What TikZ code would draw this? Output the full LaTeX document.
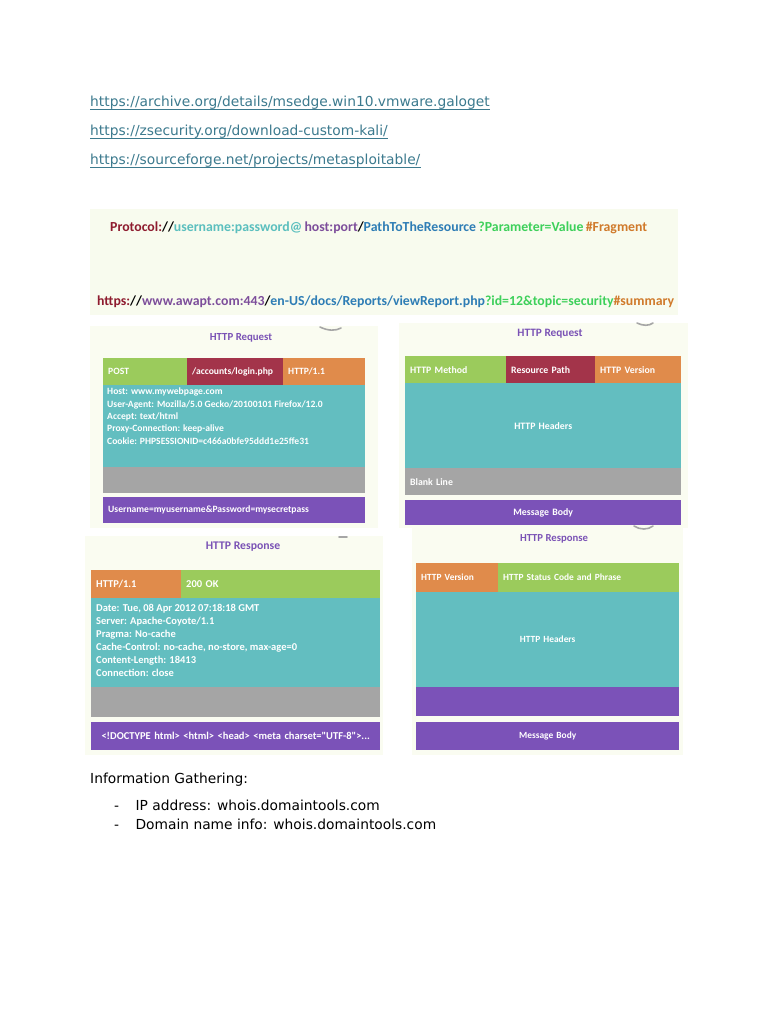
\documentclass[tikz,border=0pt]{standalone}
\usepackage{fontspec}
\setmainfont{DejaVu Sans}
\newfontfamily\shotfont{Carlito}
\usepackage{tikz}
\usetikzlibrary{positioning}
\definecolor{linkblue}{HTML}{3C7A8E}
\definecolor{bannerbg}{HTML}{F8FBEE}
\definecolor{panelbg}{HTML}{FAFCF1}
\definecolor{cgreen}{HTML}{9BCB5C}
\definecolor{cred}{HTML}{A3344A}
\definecolor{corange}{HTML}{E08B4B}
\definecolor{cteal}{HTML}{63BEC0}
\definecolor{cgray}{HTML}{A5A5A5}
\definecolor{cpurple}{HTML}{7B52B8}
\definecolor{ctitle}{HTML}{7A52B5}
\definecolor{protored}{HTML}{8E1B2E}
\definecolor{userteal}{HTML}{5BBFBE}
\definecolor{hostpurple}{HTML}{7D4E9B}
\definecolor{pathblue}{HTML}{2E7DB5}
\definecolor{paramgreen}{HTML}{3DD05A}
\definecolor{fragorange}{HTML}{D07A2B}

\begin{document}
\begin{tikzpicture}[x=1pt, y=-1pt,
    page/.style={font=\fontsize{13.8}{16}\selectfont, anchor=base west, inner sep=0pt},
    link/.style={page, text=linkblue},
    underline/.style={draw=linkblue, line width=0.8pt},
    panel/.style={fill=#1, anchor=north west, inner sep=0pt},
    cellfont/.style={font=\shotfont\bfseries\fontsize{9.6}{12}\selectfont},
    cell/.style={fill=#1, anchor=north west, inner sep=0pt, inner xsep=5pt, text=white, align=left, cellfont},
    title/.style={font=\shotfont\bfseries\fontsize{#1}{13}\selectfont, text=ctitle, inner sep=0pt},
    hdrtext/.style={anchor=north west, inner sep=0pt, text=white, align=left},
    banner text/.style={anchor=west, inner sep=0pt, font=\shotfont\bfseries\fontsize{13.8}{16}\selectfont},
    curl/.style={draw=gray!70, line width=1.6pt, line cap=round}
]
\useasboundingbox[fill=white] (0,0) rectangle (768,1024);

% Links
\node[link] (lnkEdge) at (90,107) {https://archive.org/details/msedge.win10.vmware.galoget};
\node[link] (lnkKali) at (90,136) {https://zsecurity.org/download-custom-kali/};
\node[link] (lnkMeta) at (90,165) {https://sourceforge.net/projects/metasploitable/};
\foreach \l in {lnkEdge, lnkKali, lnkMeta}
  \draw[underline] ([yshift=-2pt]\l.base west) -- ([yshift=-2pt]\l.base east);

% URL structure banner
\node[panel=bannerbg, minimum width=588, minimum height=106] (banner) at (90,209) {};
\node[banner text] (urlShape) at (110,228)
  {\textcolor{protored}{Protocol:}//\textcolor{userteal}{username:password@}\,\textcolor{hostpurple}{host:port}/\textcolor{pathblue}{PathToTheResource}\,\textcolor{paramgreen}{?Parameter=Value}\,\textcolor{fragorange}{\#Fragment}};
\node[banner text] (urlSample) at (97,302)
  {\textcolor{protored}{https:}//\textcolor{hostpurple}{www.awapt.com:443}/\textcolor{pathblue}{en-US/docs/Reports/viewReport.php}\textcolor{paramgreen}{?id=12\&topic=security}\textcolor{fragorange}{\#summary}};

% HTTP request example
\begin{scope}[cellfont/.style={font=\shotfont\bfseries\fontsize{9.6}{12}\selectfont}]
\node[panel=panelbg, minimum width=288, minimum height=202] (reqPanel) at (90,326) {};
\node[title=10.8] (reqTitle) at (241,338) {HTTP Request};
\node[cell=cgreen, minimum width=84, minimum height=27, text width=74pt] (reqPost) at (103,358) {POST};
\node[cell=cred, minimum width=96, minimum height=27, text width=86pt] (reqPath) at (187,358) {/accounts/login.php};
\node[cell=corange, minimum width=82, minimum height=27, text width=72pt] (reqVer) at (283,358) {HTTP/1.1};
\node[cell=cteal, minimum width=262, minimum height=83] (reqHdr) at (103,385) {};
\node[hdrtext, font=\shotfont\bfseries\fontsize{9.6}{12.3}\selectfont, below right=3pt and 4pt of reqHdr.north west] (reqHdrText)
  {Host: www.mywebpage.com\\
   User-Agent: Mozilla/5.0 Gecko/20100101 Firefox/12.0\\
   Accept: text/html\\
   Proxy-Connection: keep-alive\\
   Cookie: PHPSESSIONID=c466a0bfe95ddd1e25ffe31};
\node[cell=cgray, minimum width=262, minimum height=26] (reqBlank) at (103,467) {};
\node[cell=cpurple, minimum width=262, minimum height=26, text width=252pt] (reqBody) at (103,497) {Username=myusername\&Password=mysecretpass};
\end{scope}

% HTTP request layout
\begin{scope}[cellfont/.style={font=\shotfont\bfseries\fontsize{9.8}{12}\selectfont}]
\node[panel=panelbg, minimum width=289, minimum height=205] (reqFmtPanel) at (399,323) {};
\node[title=11.3] (reqFmtTitle) at (550,334) {HTTP Request};
\node[cell=cgreen, minimum width=101, minimum height=27, text width=91pt] (reqFmtMethod) at (405,356) {HTTP Method};
\node[cell=cred, minimum width=89, minimum height=27, text width=79pt] (reqFmtPath) at (506,356) {Resource Path};
\node[cell=corange, minimum width=86, minimum height=27, text width=76pt] (reqFmtVer) at (595,356) {HTTP Version};
\node[cell=cteal, minimum width=276, minimum height=85, align=center, text width=266pt] (reqFmtHdr) at (405,383) {HTTP Headers};
\node[cell=cgray, minimum width=276, minimum height=27, text width=266pt] (reqFmtBlank) at (405,468) {Blank Line};
\node[cell=cpurple, minimum width=276, minimum height=25, align=center, text width=266pt] (reqFmtBody) at (405,500) {Message Body};
\end{scope}

% HTTP response example
\begin{scope}[cellfont/.style={font=\shotfont\bfseries\fontsize{10.5}{12}\selectfont}]
\node[panel=panelbg, minimum width=298, minimum height=219] (resPanel) at (85,536) {};
\node[title=11.7] (resTitle) at (243,547) {HTTP Response};
\node[cell=corange, minimum width=90, minimum height=28, text width=80pt] (resVer) at (91,570) {HTTP/1.1};
\node[cell=cgreen, minimum width=199, minimum height=28, text width=189pt] (resStatus) at (181,570) {200 OK};
\node[cell=cteal, minimum width=289, minimum height=89] (resHdr) at (91,598) {};
\node[hdrtext, font=\shotfont\bfseries\fontsize{10.5}{13.1}\selectfont, below right=6pt and 5pt of resHdr.north west] (resHdrText)
  {Date: Tue, 08 Apr 2012 07:18:18 GMT\\
   Server: Apache-Coyote/1.1\\
   Pragma: No-cache\\
   Cache-Control: no-cache, no-store, max-age=0\\
   Content-Length: 18413\\
   Connection: close};
\node[cell=cgray, minimum width=289, minimum height=30] (resBlank) at (91,687) {};
\node[cell=cpurple, minimum width=289, minimum height=28, align=center, text width=279pt] (resBody) at (91,722) {<!DOCTYPE html> <html> <head> <meta charset="UTF-8">...};
\end{scope}

% HTTP response layout
\begin{scope}[cellfont/.style={font=\shotfont\bfseries\fontsize{9.4}{12}\selectfont}]
\node[panel=panelbg, minimum width=271, minimum height=227] (resFmtPanel) at (412,528) {};
\node[title=10.7] (resFmtTitle) at (554,539) {HTTP Response};
\node[cell=corange, minimum width=82, minimum height=29, text width=72pt] (resFmtVer) at (416,563) {HTTP Version};
\node[cell=cgreen, minimum width=181, minimum height=29, text width=171pt] (resFmtStatus) at (498,563) {HTTP Status Code and Phrase};
\node[cell=cteal, minimum width=263, minimum height=95, align=center, text width=253pt] (resFmtHdr) at (416,592) {HTTP Headers};
\node[cell=cpurple, minimum width=263, minimum height=29] (resFmtBlank) at (416,687) {};
\node[cell=cpurple, minimum width=263, minimum height=28, align=center, text width=253pt] (resFmtBody) at (416,722) {Message Body};
\end{scope}

% page curl marks
\draw[curl] (320,327) .. controls (328,331) and (336,331) .. (341,328);
\draw[curl] (637,323) .. controls (643,326) and (649,326) .. (653,323);
\draw[curl] (634,526) .. controls (640,530) and (648,530) .. (653,526);
\draw[curl] (339,537) -- (347,537);

% Information gathering
\node[page] (infoHead) at (90,783) {Information Gathering:};
\node[page] (dashIp) at (114,810) {-};
\node[page, base right=16pt of dashIp] (infoIp) {IP address: whois.domaintools.com};
\node[page] (dashDom) at (114,829) {-};
\node[page, base right=16pt of dashDom] (infoDom) {Domain name info: whois.domaintools.com};
\end{tikzpicture}
\end{document}
